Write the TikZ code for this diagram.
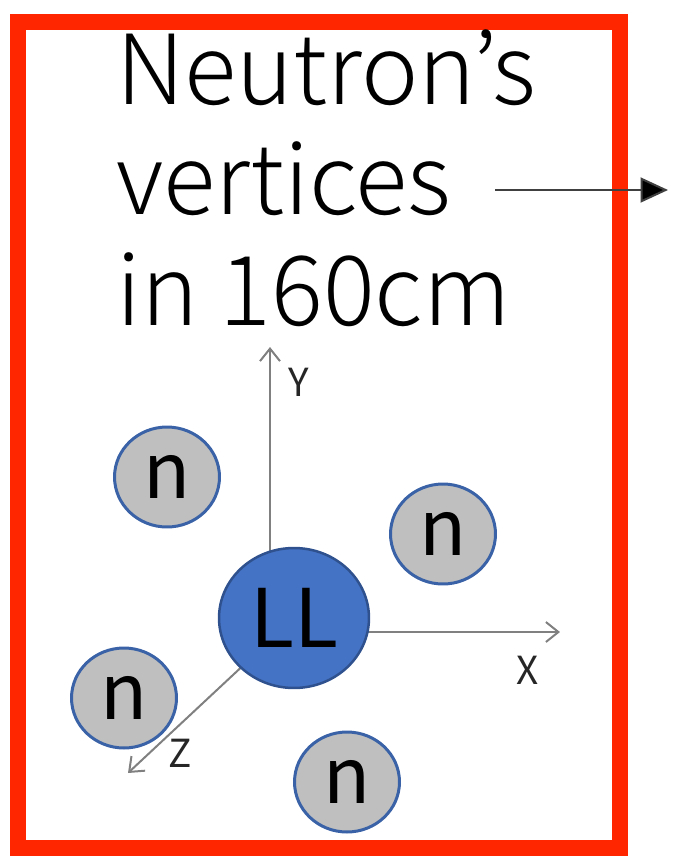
\documentclass[tikz,border=0pt]{standalone}
\usepackage{fontspec}
\setmainfont{Noto Sans CJK JP}
\IfFontExistsTF{Noto Sans CJK JP Light}
  {\newfontfamily\titlefont{Noto Sans CJK JP Light}}
  {\newfontfamily\titlefont{Noto Sans CJK JP}}
\usepackage{tikz}
\usetikzlibrary{positioning, shapes.geometric, arrows.meta, backgrounds}

\definecolor{frameRed}{HTML}{FF2600}
\definecolor{nGray}{HTML}{BFBFBF}
\definecolor{nEdge}{HTML}{3A62A6}
\definecolor{llBlue}{HTML}{4472C4}
\definecolor{llEdge}{HTML}{2F528F}
\definecolor{axGray}{HTML}{808080}

\begin{document}
\begin{tikzpicture}[
  x=0.02cm, y=-0.02cm,
  neutron/.style={draw=nEdge, fill=nGray, ellipse, line width=0.06cm,
                  minimum width=2.1cm, minimum height=2.0cm, inner sep=0pt,
                  font=\fontsize{44}{44}\selectfont},
  lambda/.style={draw=llEdge, fill=llBlue, ellipse, line width=0.05cm,
                 minimum width=3.0cm, minimum height=2.8cm, inner sep=0pt,
                 font=\fontsize{46}{46}\selectfont},
  axis/.style={draw=axGray, line width=0.04cm,
               -{Straight Barb[length=0.25cm, width=0.4cm]}},
  axlabel/.style={font=\fontsize{22}{22}\selectfont, text=black!85, inner sep=0pt},
  arr/.style={draw=black!75, line width=0.04cm,
              -{Triangle[length=0.55cm, width=0.5cm, fill=black]}},
]
\useasboundingbox (0,0) rectangle (677,856);
%% Frame
\draw[frameRed, line width=0.32cm] (18,22) rectangle (620,848);
%% Title
\node[anchor=north west, align=left, inner sep=0pt,
      font=\titlefont\fontsize{55}{63}\selectfont] (title) at (116,29)
  {Neutron’s\\vertices\\in 160cm};
\coordinate (arrStart) at (495,190);
\coordinate (arrEnd)   at (668,190);
\draw[arr] (arrStart) -- (arrEnd);
%% Particles
\node[lambda]  (LL) at (294,618) {LL};
\node[neutron] (n1) at (167,477) {n};
\node[neutron] (n2) at (443,534) {n};
\node[neutron] (n3) at (124,698) {n};
\node[neutron] (n4) at (347,782) {n};
%% Axes
\coordinate (yTip) at (270,347);
\coordinate (xTip) at (560,632);
\coordinate (zTip) at (128,773);
\begin{pgfonlayer}{background}
  \draw[axis] (LL.center -| yTip) -- (yTip);
  \draw[axis] (LL.center |- xTip) -- (xTip);
  \draw[axis] (LL.center) -- (zTip);
\end{pgfonlayer}
\node[axlabel] (yLab) at (299,382) {Y};
\node[axlabel] (xLab) at (528,670) {X};
\node[axlabel] (zLab) at (180,753) {Z};
\end{tikzpicture}
\end{document}
